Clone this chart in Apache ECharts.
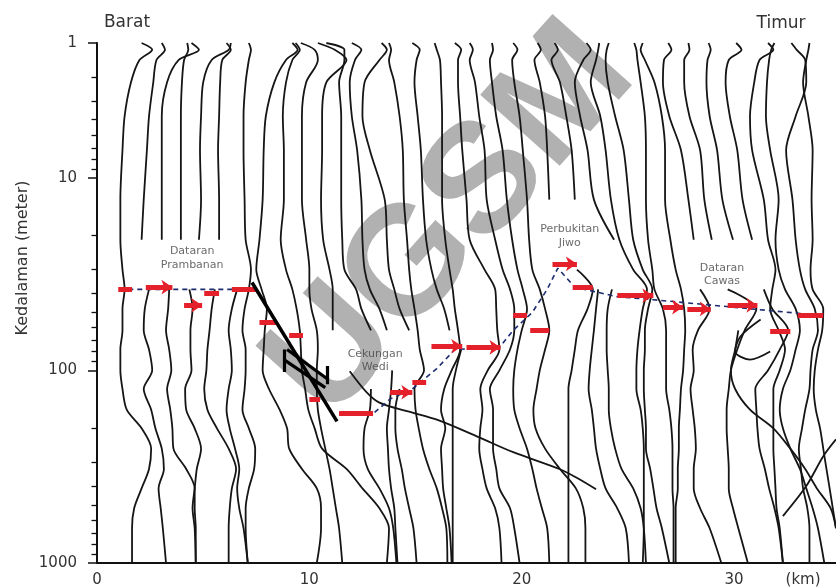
<!DOCTYPE html>
<html><head><meta charset="utf-8">
<script src="https://cdn.jsdelivr.net/npm/echarts@6/dist/echarts.min.js"></script>
<style>html,body{margin:0;padding:0;background:#fff}#c{width:836px;height:588px}</style>
</head><body><div id="c"></div>
<script>
// ---------------- DATA ----------------
const pad = (n, a) => Array(n).fill(null).concat(a);
// shared depth rows (m) for the sounding curves
const DEPTHS = [2, 2.17, 2.45, 3.2, 4.8, 7.2, 13, 21, 30, 38, 48, 62, 78, 100, 125, 160, 200, 255, 325, 410, 520, 660, 1000];
// distance (km) of each curve at each depth row (null = gap)
const C1  = [2.1,2.6,2.0,1.6,1.3,1.2,1.1,1.1,1.2,1.3,1.2,1.2,1.1,1.1,1.2,1.4,2.1,2.55,2.45,2.1,1.75,1.65,1.65];
const C2  = [3.05,3.2,2.8,2.65,2.45,2.35,2.2,2.1,null,2.45,2.25,2.2,2.45,2.6,2.2,2.55,2.75,3.05,3.15,2.9,3.0,3.1,3.25];
const C3  = [4.45,4.8,3.85,3.3,3.05,3.05,3.05,3.05,null,3.4,3.35,3.25,3.4,3.5,3.3,3.45,3.55,3.6,4.2,4.6,4.6,4.65,4.65];
const C4  = [4.25,4.3,4.1,4.0,3.95,3.95,3.95,3.95,null,4.35,4.5,4.4,4.4,4.45,4.15,4.2,4.6,4.9,4.7,4.6,4.5,4.6,4.65];
const C5  = [6.3,6.2,5.4,5.0,4.9,4.85,4.9,4.8,null,5.55,5.4,5.3,5.2,5.15,5.05,5.2,5.65,6.2,6.55,6.35,6.25,6.2,6.2];
const C6  = [6.1,6.3,5.9,5.8,5.75,5.7,5.75,5.75,null,6.6,6.35,6.2,6.3,6.35,6.2,6.1,6.25,6.5,6.7,6.6,6.7,6.9,7.1];
const C7  = [7.15,7.25,7.15,7.0,6.9,6.9,6.95,7.0,7.25,7.15,6.95,6.85,7.0,7.0,6.95,6.85,7.15,7.45,7.4,7.15,7.0,7.0,7.1];
const C8A = [9.2,9.45,8.9,8.35,7.95,7.85,7.8,7.65,7.5,7.75,8.0,7.9,7.85,7.8,8.1,8.6,8.95,9.05,9.65,10.35,10.55,10.55,10.35];
const C8B = [9.35,9.55,9.2,8.9,8.75,8.8,8.8,8.65,8.9,9.2,9.4,9.55,9.6,9.65,9.8,9.95,10.25,10.6,11.75,12.5,13.3,13.75,13.65];
const C9  = [9.6,10.25,10.4,9.85,9.65,9.65,9.65,9.85,10.0,10.0,10.1,10.35,10.4,10.35,10.35,10.4,10.55,10.75,10.95,11.1,11.25,11.4,11.55];
const C10 = [10.4,11.2,11.75,10.8,10.6,10.6,10.55,10.65,10.95,11.1,11.1,11.1];
const C11 = [10.8,11.65,11.65,11.4,11.5,11.5,11.5,11.55,11.65,12.2,12.45,12.9];
const C12 = [12.0,12.45,12.15,11.9,12.0,12.25,12.45,12.5,12.6,12.85,13.3,13.65];
const C13 = [13.4,13.65,13.3,12.6,12.5,12.85,13.55,13.65,13.75,14.0,14.25,14.7];
const C14 = [13.75,13.85,13.75,14.0,14.25,14.4,14.45,14.6,14.7,14.8,14.95,15.1,15.2,15.4,14.95,15.0,15.15,15.35,15.65,16.0,16.25,16.45,16.5];
const C15 = [14.85,15.2,15.05,14.95,15.1,15.25,15.35,15.5,15.75,16.0,16.35,16.6];
const C16 = [15.9,16.0,16.15,16.2,16.25,16.25,16.25,16.4,16.6,16.75,16.85,17.0,17.1,16.7,16.35,16.2,16.4,16.2,16.25,16.3,16.45,16.6,16.7];
const C17 = [16.85,17.15,17.0,17.0,17.1,17.2,17.4,17.55,18.25,18.75,18.8,18.85,18.95,18.4,18.05,18.15,18.05,18.0,18.15,18.35,18.75,18.95,19.05];
const R1  = [17.55,17.7,17.55,17.8,18.0,18.25,18.35,18.75,19.1,19.45,19.65,19.65,19.45,18.95,18.5,18.65,18.65,18.65,18.8,18.95,19.45,19.65,19.9];
const R2  = [18.6,18.65,18.5,18.6,18.8,19.1,19.3,19.55,19.8,20.05,20.25,20.0,19.8,19.65,19.6,19.65,19.9,20.25,20.5,20.7,20.95,21.2,21.3];
const R3  = [19.6,19.8,19.55,19.65,19.9,20.05,20.25,20.35,20.5,20.85,21.1,21.3,21.1,20.85,20.7,20.55,20.65,21.1,21.8,22.55,22.9,23.0,23.0];
const R4  = [20.75,20.9,20.6,20.85,21.1,21.2,21.3,null,22.6,23.35,23.1,22.65,22.5,22.35,22.2,22.2,22.2,22.2,22.2,22.2,22.2,22.2,22.2];
const R5  = [21.55,21.7,21.4,21.8,22.1,22.35,22.5,null,null,23.6,23.5,23.4,23.3,23.2,23.15,23.3,23.4,23.5,23.7,23.95,24.5,24.9,25.05];
const R6  = [23.05,23.25,22.9,22.5,22.75,23.1,23.4,24.35,null,24.25,24.05,24.0,24.0,24.05,24.1,24.1,24.2,24.4,24.7,25.25,25.6,25.75,25.85];
const R7  = [23.65,23.6,23.5,23.25,23.7,23.95,24.2,24.6,25.25,25.9,25.7,25.55,25.45,25.4,25.4,25.6,25.7,25.75,25.75,25.75,25.75,25.75,25.7];
const R8  = [24.1,24.0,23.95,24.05,24.4,24.8,25.05,25.25,25.7,26.15,25.95,25.8,25.8,25.75,25.75,25.8,25.85,25.85,26.05,26.2,26.35,26.6,26.95];
const R9  = [25.3,25.4,25.45,25.6,25.8,25.85,25.85,25.95,26.15,26.25,26.65,26.8,26.8,26.8,26.8,26.95,27.05,27.1,27.1,27.1,27.15,27.15,27.15];
const R10 = [25.7,25.6,25.8,26.25,26.6,26.75,26.75,27.0,27.25,27.5,27.65,27.7,27.65,27.6,27.5,27.45,27.4,27.4,27.35,27.35,27.25,27.25,27.25];
const R11 = [26.9,27.05,26.7,26.65,26.95,27.5,27.85,28.1,null,28.4,28.85,28.3,28.05,28.1,27.95,28.05,28.15,28.2,28.1,28.1,28.4,28.85,29.4];
const R12 = [27.85,27.9,27.65,27.65,27.9,28.4,28.6,28.95,null,29.7,31.05,30.5,30.15,29.85,29.75,29.65,29.65,29.7,29.75,29.75,29.95,30.2,30.65];
const R13 = [28.8,28.9,28.75,28.7,28.85,29.2,29.45,29.95,null,31.4,31.8,32.55,32.15,31.6,31.0,31.05,31.1,31.2,31.45,31.65,31.9,32.1,32.3];
const R14 = [30.1,30.35,29.75,29.6,29.8,30.15,30.4,30.85,null,null,null,30.2,30.05,29.85,30.05,30.75,31.85,32.65,33.35,33.9,34.55,34.8];
const R15 = [31.6,31.85,31.2,30.95,30.75,30.85,31.4,31.6,31.95,31.8,31.7,32.1,32.4,32.15,31.85,31.85,31.85,31.85,31.9,31.95,32.0,32.15,32.3];
const R16 = [31.9,31.75,31.65,31.55,31.5,31.7,32.1,31.95,32.1,32.4,32.9,33.1,32.9,32.65,32.3,32.15,32.3,32.65,33.1,33.4,33.7,33.95,34.25];
const R17 = [32.7,32.95,33.35,33.4,32.9,32.45,32.75,32.9,33.1,33.35,33.8,33.95,33.7,33.6,33.55,33.35,33.2,33.05,33.15,33.25,33.45,33.55,33.55];
const R18 = [33.55,33.5,33.4,33.25,33.5,33.7,33.65,33.7,33.6,33.7,34.2,34.15,33.95,33.8,33.75,33.85,34.05,34.2,34.35,34.5,34.65,34.8];
const S1  = pad(14, [12.9,12.85,12.6,12.55,12.75,13.3,13.75,13.95,14.1]);
const S2  = pad(13, [13.9,13.85,13.75,13.65,13.7,13.75,13.85,14.0,14.05,14.15]);
const S3  = pad(14, [14.25,14.05,14.05,14.15,14.35,14.5,14.7,14.9,15.05]);
const S6  = pad(12, [17.15,16.9,16.75,16.75,16.75,16.75,16.75,16.75,16.75,16.75,16.75]);
const CURVES = [C1,C2,C3,C4,C5,C6,C7,C8A,C8B,C9,C10,C11,C12,C13,C14,C15,C16,C17,
                R1,R2,R3,R4,R5,R6,R7,R8,R9,R10,R11,R12,R13,R14,R15,R16,R17,R18,S1,S2,S3,S6];
// free-form curves as [km, depth]
const WEDI_CURVE = [[11.9,101],[12.7,130],[13.3,147],[14.6,163],[16.1,182],[18.0,223],[19.6,266],[21.8,326],[22.55,359],[23.5,414]];
const CAWAS_LOOP = [[31.25,54.5],[30.3,66.7],[30.05,79.8],[30.75,88],[31.7,79.8]];
const EAST_CROSS = [[32.3,571],[33.4,399],[34.2,279],[34.8,228]];
const EXTRA = [WEDI_CURVE, CAWAS_LOOP, EAST_CROSS];
// interpreted interface: red dashes [x1, x2, depth]
const RED_DASH  = [[1.0,1.65,38],[5.05,5.75,40],[6.35,7.5,38],[7.65,8.45,56],[9.05,9.7,66],[10.0,10.5,141],[11.4,13.0,168],[14.85,15.5,115],[19.6,20.25,52],[20.4,21.3,62],[22.4,23.35,37],[31.7,32.65,63],[33.0,34.2,52]];
const RED_ARROW = [[2.3,3.55,37],[4.1,4.95,46],[13.8,14.85,130],[15.75,17.2,75],[17.4,19.0,76],[21.45,22.6,28],[24.5,26.2,41],[26.65,27.6,47],[27.8,28.9,48],[29.7,31.1,46]];
const IFACE_W = [[1.05,38],[7.3,38]];
const IFACE_E = [[11.4,168],[13.0,168],[13.8,141],[14.85,125],[16.0,98],[16.85,78],[18.95,76],[19.6,62],[20.5,50],[21.2,38],[21.7,29.5],[22.5,37],[24.5,41.5],[26.2,43],[34.2,52]];
const FAULT = [[7.3,35],[11.3,184]];
const FAULT_MARK = [[[8.8,78],[8.8,102]],[[10.85,95],[10.85,118]],[[8.95,78],[10.9,112]],[[8.8,88],[10.75,123]]];
const REGIONS = [[4.48,26.2,'Dataran\nPrambanan'],[13.1,89,'Cekungan\nWedi'],[22.26,20.1,'Perbukitan\nJiwo'],[29.43,31.8,'Dataran\nCawas']];
const Y_MAJOR = [2,10,100,1000];
const Y_LABELS = ['1','10','100','1000'];
const Y_MINOR = [3,4,5,6,7,8,9,20,30,40,50,60,70,80,90,200,300,400,500,600,700,800,900];
const X_TICKS = [0,10,20,30,33.25];
const X_LABELS = ['0','10','20','30','(km)'];

// ---------------- CHART ----------------
const FONT = 'DejaVu Sans';
const chart = echarts.init(document.getElementById('c'), null, {renderer:'canvas'});
const series = [];
const curveStyle = {color:'#151515', width:1.8};
function pushLine(data, extra) {
  series.push(Object.assign({type:'line', data, showSymbol:false, symbol:'none', smooth:0.3, silent:true,
    lineStyle:curveStyle, z:3, animation:false}, extra || {}));
}
CURVES.forEach(xs => {
  let cur = [];
  DEPTHS.forEach((d, i) => {
    const x = xs[i];
    if (x == null) { if (cur.length > 1) pushLine(cur); cur = []; }
    else cur.push([x, d]);
  });
  if (cur.length > 1) pushLine(cur);
});
EXTRA.forEach(c => pushLine(c));
const ifaceStyle = {color:'#1c2b6e', width:1.6, type:[5,4]};
pushLine(IFACE_W, {smooth:false, lineStyle:ifaceStyle, z:4});
pushLine(IFACE_E, {smooth:false, lineStyle:ifaceStyle, z:4});
series.push({type:'lines', coordinateSystem:'cartesian2d', silent:true, z:5, animation:false,
  lineStyle:{color:'#e4202a', width:5, opacity:1}, symbol:['none','none'],
  data: RED_DASH.map(r => ({coords:[[r[0], r[2]], [r[1], r[2]]]}))});
series.push({type:'lines', coordinateSystem:'cartesian2d', silent:true, z:5, animation:false,
  lineStyle:{color:'#e4202a', width:5, opacity:1}, symbol:['none','arrow'], symbolSize:11,
  data: RED_ARROW.map(r => ({coords:[[r[0], r[2]], [r[1], r[2]]]}))});
pushLine(FAULT, {smooth:false, lineStyle:{color:'#000', width:3.5}, z:6});
series.push({type:'lines', coordinateSystem:'cartesian2d', silent:true, z:6, animation:false,
  lineStyle:{color:'#000', width:3.2, opacity:1}, data: FAULT_MARK.map(c => ({coords:c}))});
series.push({type:'scatter', silent:true, symbolSize:0, z:7, animation:false,
  data: REGIONS,
  label:{show:true, position:'inside', formatter:p => p.data[2], fontFamily:FONT, fontSize:11,
    color:'#454545', lineHeight:13.5, align:'center', verticalAlign:'middle'}});

const option = {
  backgroundColor:'#fff',
  animation:false,
  grid:{left:97, right:0, top:43, bottom:24, containLabel:false},
  xAxis:{type:'value', min:0, max:34.8,
    axisLine:{show:true, onZero:false, lineStyle:{color:'#111', width:2}},
    axisTick:{show:false}, splitLine:{show:false},
    axisLabel:{customValues:X_TICKS, formatter:v => X_LABELS[X_TICKS.indexOf(v)] ?? '',
      fontFamily:FONT, fontSize:15, color:'#333', margin:10}},
  yAxis:[{type:'log', logBase:10, min:2, max:1000, inverse:true, position:'left',
    axisLine:{show:true, onZero:false, lineStyle:{color:'#111', width:2}},
    axisTick:{show:true, length:9, customValues:Y_MAJOR, lineStyle:{color:'#111', width:1.5}},
    minorTick:{show:false}, splitLine:{show:false},
    axisLabel:{customValues:Y_MAJOR, formatter:v => {
        let best = 0; Y_MAJOR.forEach((m, i) => { if (Math.abs(Math.log10(v) - Math.log10(m)) < Math.abs(Math.log10(v) - Math.log10(Y_MAJOR[best]))) best = i; });
        return Y_LABELS[best]; },
      fontFamily:FONT, fontSize:15, color:'#333', margin:20}},
   {type:'log', logBase:10, min:2, max:1000, inverse:true, position:'left', offset:0,
    axisLine:{show:false}, axisLabel:{show:false}, splitLine:{show:false}, minorTick:{show:false},
    axisTick:{show:true, length:5.5, customValues:Y_MINOR, lineStyle:{color:'#111', width:1.3}}}],
  graphic:[
    {type:'text', x:452, y:222, rotation:0.84, z:0, silent:true,
      style:{text:'UGSM', fontFamily:'Liberation Sans', fontWeight:'bold', fontSize:155, fill:'#b1b1b1', align:'center', verticalAlign:'middle'}},
    {type:'text', x:127, y:23, z:10, style:{text:'Barat', fontFamily:FONT, fontSize:17, fill:'#333', align:'center', verticalAlign:'middle'}},
    {type:'text', x:781, y:24, z:10, style:{text:'Timur', fontFamily:FONT, fontSize:17, fill:'#333', align:'center', verticalAlign:'middle'}},
    {type:'text', x:23, y:258, rotation:Math.PI/2, z:10, style:{text:'Kedalaman (meter)', fontFamily:FONT, fontSize:16, fill:'#333', align:'center', verticalAlign:'middle'}}
  ],
  series
};
chart.setOption(option);
</script></body></html>
